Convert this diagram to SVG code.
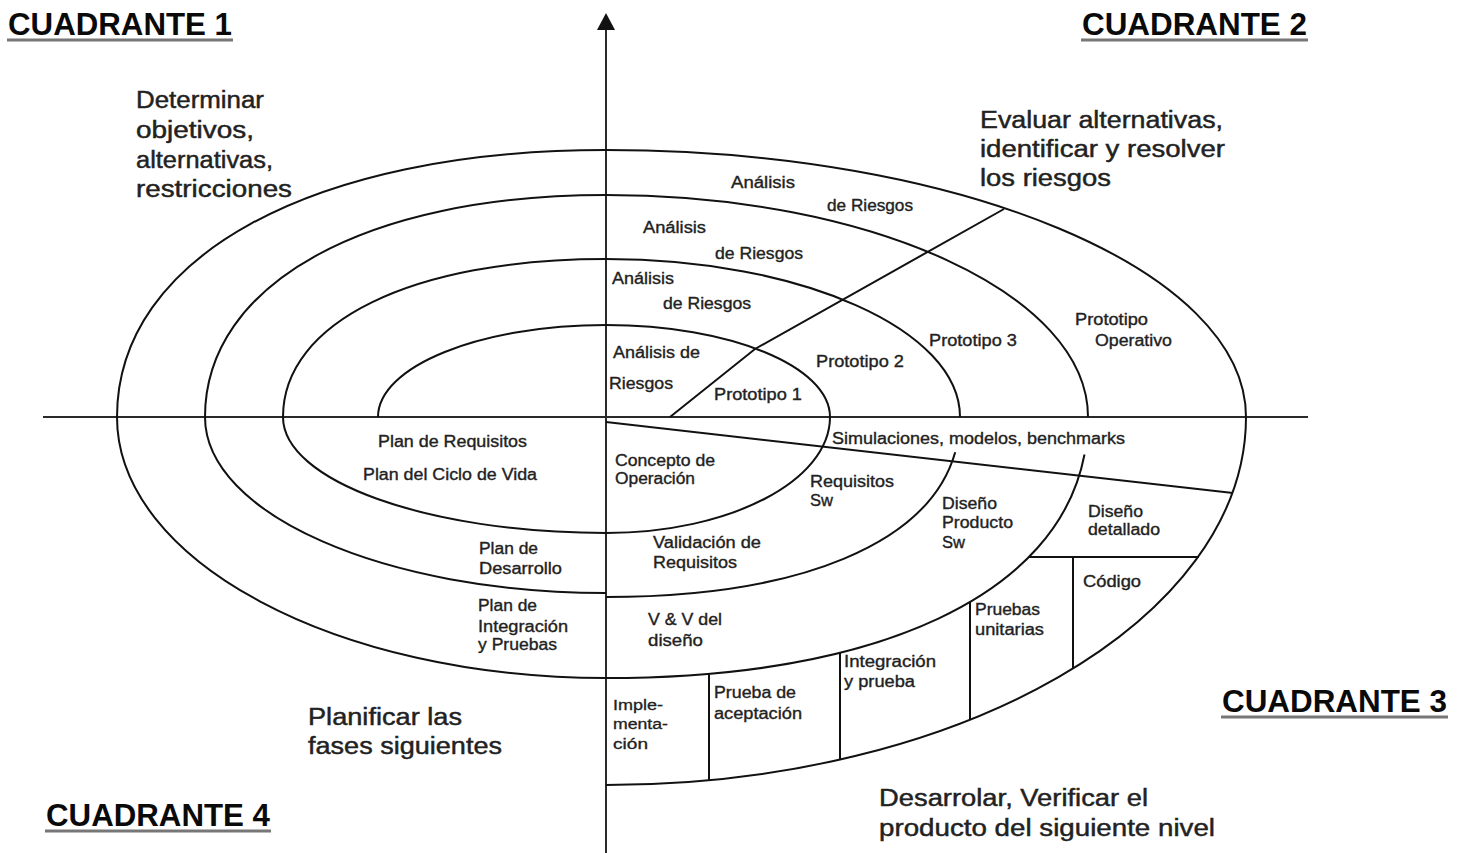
<svg xmlns="http://www.w3.org/2000/svg" width="1466" height="853" viewBox="0 0 1466 853">
  <style>
    .ax{stroke:#2a2a2a;stroke-width:2;fill:none}
    .sp{stroke:#111;stroke-width:2;fill:none}
    .lbl{font-family:"Liberation Sans",Arial,sans-serif;font-size:16px;fill:#222;stroke:#222;stroke-width:0.35px}
    .sm{font-family:"Liberation Sans",Arial,sans-serif;font-size:14px;fill:#222;stroke:#222;stroke-width:0.3px}
    .big{font-family:"Liberation Sans",Arial,sans-serif;font-size:23px;fill:#222;stroke:#222;stroke-width:0.45px}
    .quad{font-family:"Liberation Sans",Arial,sans-serif;font-size:31px;font-weight:bold;fill:#0a0a0a}
    .ul{stroke:#777;stroke-width:3}
  </style>
  <defs>
    <marker id="arrow" viewBox="0 0 17 18" refX="0" refY="9" markerWidth="17" markerHeight="18" markerUnits="userSpaceOnUse" orient="auto">
      <path d="M0,0 L17,9 L0,18 Z" fill="#111"/>
    </marker>
  </defs>
  <rect width="1466" height="853" fill="#fff"/>

  <!-- axes -->
  <g id="axes">
    <line class="ax" x1="43" y1="417" x2="1308" y2="417"/>
    <line class="ax" x1="606" y1="853" x2="606" y2="30" marker-end="url(#arrow)"/>
  </g>

  <!-- spiral made of quarter arcs -->
  <g id="spiral">
    <path class="sp" d="M378,417 C378,366.2 480.1,325 606,325 C729.6,325 830,366.2 830,417 C830,481 729.6,533 606,533 C427.7,533 283,481 283,417 C283,322.2 412.2,259 606,259 C801.4,259 960,329.8 960,417"/>
    <path class="sp" d="M955.2,452.2 C929.4,542.8 801.4,597 606,597"/>
    <path class="sp" d="M606,593 C384.6,593 205,514.2 205,417 C205,283.8 365.4,195 606,195 C872.1,195 1088,294.5 1088,417"/>
    <path class="sp" d="M1084.5,454.5 C1057.9,594 880.9,678 606,678 C336.1,678 117,561.1 117,417 C117,256.8 312.6,150 606,150 C959.3,150 1246,269.6 1246,417 C1246,620.1 959.3,785 606,785"/>
  </g>

  <!-- dividing lines between the phases -->
  <g id="connectors">
    <path class="sp" d="M670,417 L755,349 L1004,209"/>
    <path class="sp" d="M606,422 L1233,493"/>
    <path class="sp" d="M1029,557 H1199 M1073,557 V669 M970,602 V720 M840,652 V760 M709,674 V780"/>
  </g>

  <!-- quadrant titles -->
  <g id="q1"><text class="quad" x="8" y="35" textLength="224" lengthAdjust="spacingAndGlyphs">CUADRANTE 1</text><line class="ul" x1="7" y1="40" x2="233" y2="40"/></g>
  <g id="q2"><text class="quad" x="1082" y="35" textLength="225" lengthAdjust="spacingAndGlyphs">CUADRANTE 2</text><line class="ul" x1="1081" y1="40" x2="1308" y2="40"/></g>
  <g id="q3"><text class="quad" x="1222" y="712" textLength="225" lengthAdjust="spacingAndGlyphs">CUADRANTE 3</text><line class="ul" x1="1221" y1="717" x2="1448" y2="717"/></g>
  <g id="q4"><text class="quad" x="46" y="826" textLength="224" lengthAdjust="spacingAndGlyphs">CUADRANTE 4</text><line class="ul" x1="45" y1="831" x2="271" y2="831"/></g>

  <!-- quadrant descriptions -->
  <g id="d1" class="big">
    <text x="136" y="108" textLength="128" lengthAdjust="spacingAndGlyphs">Determinar</text>
    <text x="136" y="138" textLength="118" lengthAdjust="spacingAndGlyphs">objetivos,</text>
    <text x="136" y="168" textLength="137" lengthAdjust="spacingAndGlyphs">alternativas,</text>
    <text x="136" y="197" textLength="156" lengthAdjust="spacingAndGlyphs">restricciones</text>
  </g>
  <g id="d2" class="big">
    <text x="980" y="128" textLength="243" lengthAdjust="spacingAndGlyphs">Evaluar alternativas,</text>
    <text x="980" y="157" textLength="245" lengthAdjust="spacingAndGlyphs">identificar y resolver</text>
    <text x="980" y="186" textLength="131" lengthAdjust="spacingAndGlyphs">los riesgos</text>
  </g>
  <g id="d4" class="big">
    <text x="308" y="725" textLength="154" lengthAdjust="spacingAndGlyphs">Planificar las</text>
    <text x="308" y="754" textLength="194" lengthAdjust="spacingAndGlyphs">fases siguientes</text>
  </g>
  <g id="d3" class="big">
    <text x="879" y="806" textLength="269" lengthAdjust="spacingAndGlyphs">Desarrolar, Verificar el</text>
    <text x="879" y="836" textLength="336" lengthAdjust="spacingAndGlyphs">producto del siguiente nivel</text>
  </g>

  <!-- risk analysis rings -->
  <g id="riesgo4" class="lbl">
    <text x="731" y="188" textLength="64" lengthAdjust="spacingAndGlyphs">Análisis</text>
    <text x="827" y="211" textLength="86" lengthAdjust="spacingAndGlyphs">de Riesgos</text>
  </g>
  <g id="riesgo3" class="lbl">
    <text x="643" y="233" textLength="63" lengthAdjust="spacingAndGlyphs">Análisis</text>
    <text x="715" y="259" textLength="88" lengthAdjust="spacingAndGlyphs">de Riesgos</text>
  </g>
  <g id="riesgo2" class="lbl">
    <text x="612" y="284" textLength="62" lengthAdjust="spacingAndGlyphs">Análisis</text>
    <text x="663" y="309" textLength="88" lengthAdjust="spacingAndGlyphs">de Riesgos</text>
  </g>
  <g id="riesgo1" class="lbl">
    <text x="613" y="358" textLength="87" lengthAdjust="spacingAndGlyphs">Análisis de</text>
    <text x="609" y="389" textLength="64" lengthAdjust="spacingAndGlyphs">Riesgos</text>
  </g>

  <!-- prototypes -->
  <g id="proto1" class="lbl"><text x="714" y="400" textLength="88" lengthAdjust="spacingAndGlyphs">Prototipo 1</text></g>
  <g id="proto2" class="lbl"><text x="816" y="367" textLength="88" lengthAdjust="spacingAndGlyphs">Prototipo 2</text></g>
  <g id="proto3" class="lbl"><text x="929" y="346" textLength="88" lengthAdjust="spacingAndGlyphs">Prototipo 3</text></g>
  <g id="protoOp" class="lbl">
    <text x="1075" y="325" textLength="73" lengthAdjust="spacingAndGlyphs">Prototipo</text>
    <text x="1095" y="346" textLength="77" lengthAdjust="spacingAndGlyphs">Operativo</text>
  </g>

  <!-- planning quadrant -->
  <g id="planReq" class="lbl">
    <text x="378" y="447" textLength="149" lengthAdjust="spacingAndGlyphs">Plan de Requisitos</text>
    <text x="363" y="480" textLength="174" lengthAdjust="spacingAndGlyphs">Plan del Ciclo de Vida</text>
  </g>
  <g id="planDes" class="lbl">
    <text x="479" y="554" textLength="59" lengthAdjust="spacingAndGlyphs">Plan de</text>
    <text x="479" y="574" textLength="83" lengthAdjust="spacingAndGlyphs">Desarrollo</text>
  </g>
  <g id="planInt" class="lbl">
    <text x="478" y="611" textLength="59" lengthAdjust="spacingAndGlyphs">Plan de</text>
    <text x="478" y="632" textLength="90" lengthAdjust="spacingAndGlyphs">Integración</text>
    <text x="478" y="650" textLength="79" lengthAdjust="spacingAndGlyphs">y Pruebas</text>
  </g>

  <!-- development quadrant -->
  <g id="concepto" class="lbl">
    <text x="615" y="466" textLength="100" lengthAdjust="spacingAndGlyphs">Concepto de</text>
    <text x="615" y="484" textLength="80" lengthAdjust="spacingAndGlyphs">Operación</text>
  </g>
  <g id="simul" class="lbl"><text x="832" y="444" textLength="293" lengthAdjust="spacingAndGlyphs">Simulaciones, modelos, benchmarks</text></g>
  <g id="reqSw" class="lbl">
    <text x="810" y="487" textLength="84" lengthAdjust="spacingAndGlyphs">Requisitos</text>
    <text x="810" y="506" textLength="23" lengthAdjust="spacingAndGlyphs">Sw</text>
  </g>
  <g id="disProd" class="lbl">
    <text x="942" y="509" textLength="55" lengthAdjust="spacingAndGlyphs">Diseño</text>
    <text x="942" y="528" textLength="71" lengthAdjust="spacingAndGlyphs">Producto</text>
    <text x="942" y="548" textLength="23" lengthAdjust="spacingAndGlyphs">Sw</text>
  </g>
  <g id="disDet" class="lbl">
    <text x="1088" y="517" textLength="55" lengthAdjust="spacingAndGlyphs">Diseño</text>
    <text x="1088" y="535" textLength="72" lengthAdjust="spacingAndGlyphs">detallado</text>
  </g>
  <g id="valReq" class="lbl">
    <text x="653" y="548" textLength="108" lengthAdjust="spacingAndGlyphs">Validación de</text>
    <text x="653" y="568" textLength="84" lengthAdjust="spacingAndGlyphs">Requisitos</text>
  </g>
  <g id="vvDis" class="lbl">
    <text x="648" y="625" textLength="74" lengthAdjust="spacingAndGlyphs">V &amp; V del</text>
    <text x="648" y="646" textLength="55" lengthAdjust="spacingAndGlyphs">diseño</text>
  </g>
  <g id="codigo" class="lbl"><text x="1083" y="587" textLength="58" lengthAdjust="spacingAndGlyphs">Código</text></g>
  <g id="pruUni" class="lbl">
    <text x="975" y="615" textLength="65" lengthAdjust="spacingAndGlyphs">Pruebas</text>
    <text x="975" y="635" textLength="69" lengthAdjust="spacingAndGlyphs">unitarias</text>
  </g>
  <g id="intPru" class="lbl">
    <text x="844" y="667" textLength="92" lengthAdjust="spacingAndGlyphs">Integración</text>
    <text x="844" y="687" textLength="71" lengthAdjust="spacingAndGlyphs">y prueba</text>
  </g>
  <g id="pruAcep" class="lbl">
    <text x="714" y="698" textLength="82" lengthAdjust="spacingAndGlyphs">Prueba de</text>
    <text x="714" y="719" textLength="88" lengthAdjust="spacingAndGlyphs">aceptación</text>
  </g>
  <g id="implem" class="sm">
    <text x="613" y="710" textLength="50" lengthAdjust="spacingAndGlyphs">Imple-</text>
    <text x="613" y="729" textLength="55" lengthAdjust="spacingAndGlyphs">menta-</text>
    <text x="613" y="749" textLength="35" lengthAdjust="spacingAndGlyphs">ción</text>
  </g>
</svg>
